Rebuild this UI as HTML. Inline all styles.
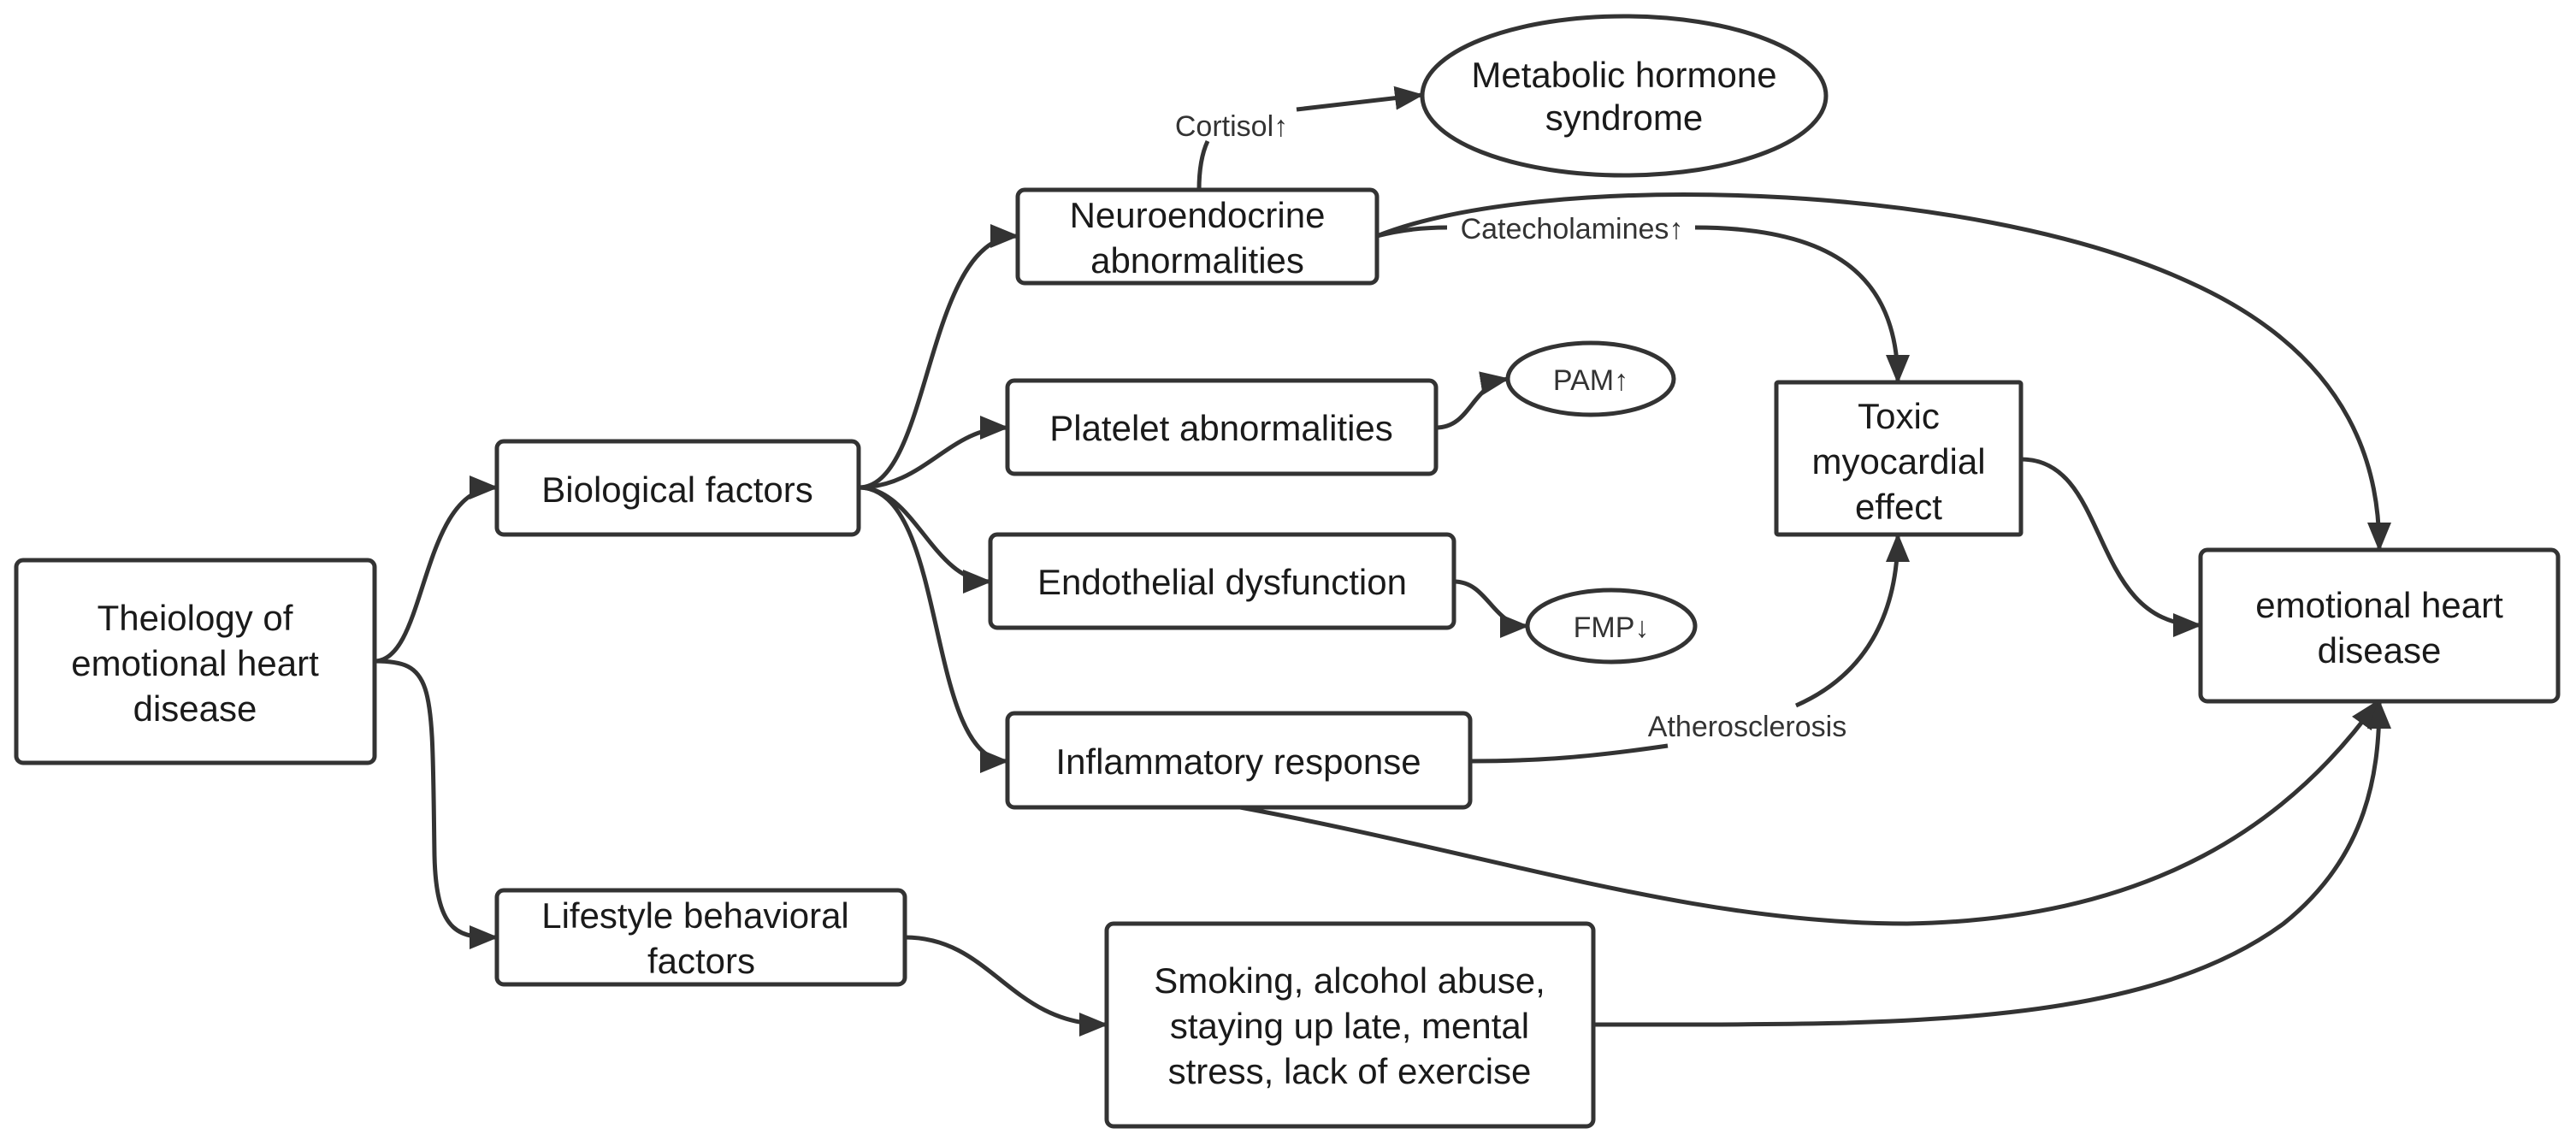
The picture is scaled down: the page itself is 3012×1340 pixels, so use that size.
<!DOCTYPE html>
<html><head><meta charset="utf-8"><style>
html,body{margin:0;padding:0;background:#fff;}
svg{display:block;}
text{font-family:"Liberation Sans",sans-serif;fill:#1a1a1a;}
.b{fill:#fff;stroke:#333;stroke-width:5;}
.l{fill:none;stroke:#333;stroke-width:5;}
.t{font-size:42px;text-anchor:middle;}
.s{font-size:34px;text-anchor:middle;fill:#333;}
</style></head><body>
<svg width="3012" height="1340" viewBox="0 0 3012 1340" xmlns="http://www.w3.org/2000/svg">
<defs>
<marker id="a" markerUnits="userSpaceOnUse" markerWidth="34" markerHeight="28" refX="32" refY="14" orient="auto">
<path d="M0,0 L34,14 L0,28 Z" fill="#333"/>
</marker>
</defs>
<path class="l" marker-end="url(#a)" d="M438,773 C500,773 490,570 581,570"/>
<path class="l" marker-end="url(#a)" d="M438,773 C510,773 505,800 508,1000 C510,1096 540,1096 581,1096"/>
<path class="l" marker-end="url(#a)" d="M1004,570 C1090,570 1080,276 1190,276"/>
<path class="l" marker-end="url(#a)" d="M1004,570 C1080,570 1110,500 1178,500"/>
<path class="l" marker-end="url(#a)" d="M1004,570 C1070,570 1090,680 1158,680"/>
<path class="l" marker-end="url(#a)" d="M1004,570 C1110,570 1080,890 1178,890"/>
<path class="l" marker-end="url(#a)" d="M1058,1096 C1160,1096 1180,1198 1294,1198"/>
<path class="l" d="M1402,222 C1402,200 1405,180 1412,165"/>
<path class="l" marker-end="url(#a)" d="M1516,128 L1663,111"/>
<path class="l" marker-end="url(#a)" d="M1610,276 C1800,200 2300,210 2560,330 C2760,420 2782,560 2782,643"/>
<path class="l" d="M1610,276 C1640,268 1670,266 1692,266"/>
<path class="l" marker-end="url(#a)" d="M1982,266 C2140,266 2219,320 2219,447"/>
<path class="l" marker-end="url(#a)" d="M1679,500 C1720,500 1720,450 1763,443"/>
<path class="l" marker-end="url(#a)" d="M1700,680 C1740,680 1745,732 1786,732"/>
<path class="l" d="M1719,890 C1800,890 1860,885 1950,872"/>
<path class="l" marker-end="url(#a)" d="M2100,825 C2180,790 2219,720 2219,625"/>
<path class="l" marker-end="url(#a)" d="M1450,944 C1750,1000 1980,1080 2230,1080 C2520,1075 2680,960 2780,820"/>
<path class="l" marker-end="url(#a)" d="M1863,1198 C2200,1198 2500,1205 2670,1080 C2770,1000 2782,900 2782,820"/>
<path class="l" marker-end="url(#a)" d="M2363,537 C2470,537 2440,731 2573,731"/>
<rect class="b" x="19" y="655" width="419" height="237" rx="8"/>
<text class="t" x="228" y="737">Theiology of</text>
<text class="t" x="228" y="790">emotional heart</text>
<text class="t" x="228" y="843">disease</text>
<rect class="b" x="581" y="516" width="423" height="109" rx="8"/>
<text class="t" x="792" y="587">Biological factors</text>
<rect class="b" x="581" y="1041" width="477" height="110" rx="8"/>
<text class="t" x="813" y="1085">Lifestyle behavioral</text>
<text class="t" x="820" y="1138">factors</text>
<rect class="b" x="1190" y="222" width="420" height="109" rx="8"/>
<text class="t" x="1400" y="266">Neuroendocrine</text>
<text class="t" x="1400" y="319">abnormalities</text>
<rect class="b" x="1178" y="445" width="501" height="109" rx="8"/>
<text class="t" x="1428" y="515">Platelet abnormalities</text>
<rect class="b" x="1158" y="625" width="542" height="109" rx="8"/>
<text class="t" x="1429" y="695">Endothelial dysfunction</text>
<rect class="b" x="1178" y="834" width="541" height="110" rx="8"/>
<text class="t" x="1448" y="905">Inflammatory response</text>
<rect class="b" x="1294" y="1080" width="569" height="237" rx="8"/>
<text class="t" x="1578" y="1161">Smoking, alcohol abuse,</text>
<text class="t" x="1578" y="1214">staying up late, mental</text>
<text class="t" x="1578" y="1267">stress, lack of exercise</text>
<rect class="b" x="2077" y="447" width="286" height="178" rx="2"/>
<text class="t" x="2220" y="501">Toxic</text>
<text class="t" x="2220" y="554">myocardial</text>
<text class="t" x="2220" y="607">effect</text>
<rect class="b" x="2573" y="643" width="418" height="177" rx="8"/>
<text class="t" x="2782" y="722">emotional heart</text>
<text class="t" x="2782" y="775">disease</text>
<ellipse class="b" cx="1899" cy="112" rx="236" ry="93"/>
<text class="t" x="1899" y="102">Metabolic hormone</text>
<text class="t" x="1899" y="152">syndrome</text>
<ellipse class="b" cx="1860" cy="443" rx="97" ry="42"/>
<text class="s" x="1860" y="456">PAM↑</text>
<ellipse class="b" cx="1884" cy="732" rx="98" ry="42"/>
<text class="s" x="1884" y="745">FMP↓</text>
<text class="s" x="1440" y="159">Cortisol↑</text>
<text class="s" x="1838" y="279">Catecholamines↑</text>
<text class="s" x="2043" y="861">Atherosclerosis</text>
</svg>
</body></html>
